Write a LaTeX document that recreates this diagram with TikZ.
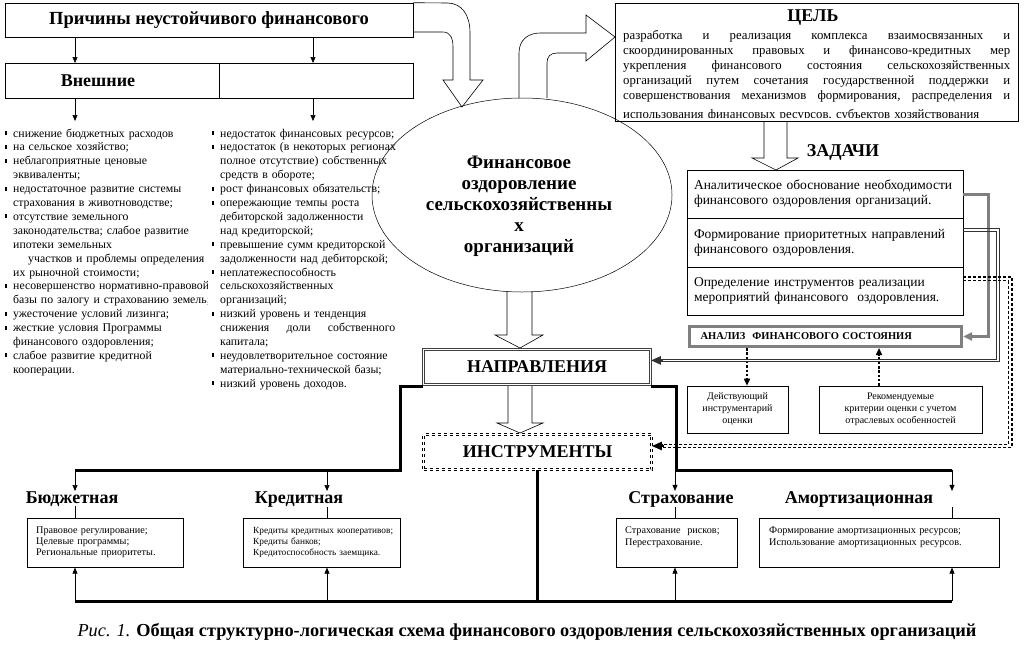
\documentclass[tikz,border=0pt]{standalone}
\usepackage{fontspec}
\setmainfont{Liberation Serif}
\usetikzlibrary{arrows.meta,shapes.geometric,calc}
\newcommand{\fs}[2]{\fontsize{#1}{#2}\selectfont}
\newcommand{\bl}{\leavevmode\llap{\rule[2pt]{2pt}{4pt}\hspace{6pt}}}
\newcommand{\jline}[2]{\leavevmode\hbox to #1{#2}}
\begin{document}
\begin{tikzpicture}[x=1pt,y=-1pt,
  thinbox/.style={draw, line width=0.6pt, inner sep=0},
  arr/.style={-{Triangle[length=6pt,width=5pt]}, line width=0.6pt},
  blockarrow/.style={line width=0.6pt, line join=miter},
  thk/.style={line width=3pt, line join=miter},
  lbl/.style={inner sep=0, font=\fs{18}{20}\bfseries},
  dotarr/.style={line width=1.6pt, dash pattern=on 2.5pt off 1.8pt, -{Triangle[length=7pt,width=6pt]}},
  dbl/.style={double, double distance=1.4pt, line width=0.6pt},
  solidpair/.style={line width=0.8pt, draw=black!80, line join=miter},
  dashpair/.style={line width=1.2pt, draw=black, line join=miter, dash pattern=on 3pt off 2pt}
]
\useasboundingbox[fill=white] (0,0) rectangle (1024,653);

% ---------- top-left: causes ----------
\node[thinbox, minimum width=408, minimum height=34] (prich) at (209,20)
  {\fs{18.5}{20}\bfseries Причины неустойчивого финансового};
\node[thinbox, minimum width=214, minimum height=35, anchor=north west] (vnL) at (5,63) {};
\node[thinbox, minimum width=194, minimum height=35, anchor=north west] (vnR) at (219,63) {};
\node[lbl] (vnt) at (98,81) {Внешние};

\coordinate (xa) at (75,0);
\coordinate (xb) at (313,0);
\coordinate (la) at (75,121);
\coordinate (lb) at (313,121);
\draw[arr] (xa |- prich.south) -- (xa |- vnL.north);
\draw[arr] (xb |- prich.south) -- (xb |- vnR.north);
\draw[arr] (xa |- vnL.south) -- (la);
\draw[arr] (xb |- vnR.south) -- (lb);

% ---------- lists ----------
\begin{scope}
\clip (0,118) rectangle (207,400);
\node[anchor=base west, text width=230, align=left, inner sep=0, font=\fs{11.8}{13.9}] (lst1) at (13,137) {%
\bl снижение бюджетных расходов\\
\bl на сельское хозяйство;\\
\bl неблагоприятные ценовые\\
эквиваленты;\\
\bl недостаточное развитие системы\\
страхования в животноводстве;\\
\bl отсутствие земельного\\
законодательства; слабое развитие\\
ипотеки земельных\\
\hspace*{15pt}участков и проблемы определения\\
их рыночной стоимости;\\
\bl несовершенство нормативно-правовой\\
базы по залогу и страхованию земель;\\
\bl ужесточение условий лизинга;\\
\bl жесткие условия Программы\\
финансового оздоровления;\\
\bl слабое развитие кредитной\\
кооперации.};
\end{scope}

\node[anchor=base west, text width=200, align=left, inner sep=0, font=\fs{11.8}{13.9}] (lst2) at (220,137) {%
\bl недостаток финансовых ресурсов;\\
\bl недостаток (в некоторых регионах\\
полное отсутствие) собственных\\
средств в обороте;\\
\bl рост финансовых обязательств;\\
\bl опережающие темпы роста\\
дебиторской задолженности\\
над кредиторской;\\
\bl превышение сумм кредиторской\\
задолженности над дебиторской;\\
\bl неплатежеспособность\\
сельскохозяйственных\\
организаций;\\
\bl низкий уровень и тенденция\\
\jline{175pt}{снижения\hfill доли\hfill собственного}\\
капитала;\\
\bl неудовлетворительное состояние\\
материально-технической базы;\\
\bl низкий уровень доходов.};

% ---------- ellipse ----------
\node[draw, ellipse, minimum width=300, minimum height=194, inner sep=0, line width=0.5pt] (ell) at (522,195) {};
\node[align=center, inner sep=0, font=\fs{19}{21}\bfseries] (ellt) at (519,206)
  {Финансовое\\оздоровление\\сельскохозяйственны\\х\\организаций};

% block arrow: causes -> ellipse
\draw[blockarrow] (prich.north east) -- (447,3) .. controls (462,3) and (470,15) .. (470,33)
  -- (470,80) -- (483,80) -- (462,107) -- (443,80) -- (453,80) -- (453,47)
  .. controls (453,38) and (450,32) .. (443,32) -- (prich.east |- 0,32);

% ---------- goal ----------
\node[thinbox, minimum width=403, minimum height=118, anchor=north west] (cel) at (615,3) {};
\node[lbl] (celt) at (813,18) {ЦЕЛЬ};
\begin{scope}
\clip (615,3) rectangle (1018,117.5);
\node[anchor=base west, text width=387, align=left, inner sep=0, font=\fs{12.8}{15}] (celb) at (623,39) {%
\jline{387pt}{разработка\hfill и\hfill реализация\hfill комплекса\hfill взаимосвязанных\hfill и}\\
\jline{387pt}{скоординированных\hfill правовых\hfill и\hfill финансово-кредитных\hfill мер}\\
\jline{387pt}{укрепления\hfill финансового\hfill состояния\hfill сельскохозяйственных}\\
\jline{387pt}{организаций\hfill путем\hfill сочетания\hfill государственной\hfill поддержки\hfill и}\\
\jline{387pt}{совершенствования\hfill механизмов\hfill формирования,\hfill распределения\hfill и}\\[4pt]
использования финансовых ресурсов, субъектов хозяйствования};
\end{scope}

% block arrow: ellipse -> goal
\draw[blockarrow] (519,98) -- (519,53) .. controls (519,40) and (528,33) .. (540,33)
  -- (586,33) -- (586,15) -- (cel.west |- 0,37) -- (586,61) -- (586,53) -- (557,53)
  .. controls (550,53) and (547,57) .. (547,63) -- (547,98);

% ---------- tasks ----------
\draw[blockarrow] (764,121) -- (764,158) -- (752,158) -- (776,170) -- (798,158) -- (787,158) -- (787,121);
\node[lbl] (zad) at (843,152) {ЗАДАЧИ};
\node[thinbox, minimum width=276, minimum height=48, text width=262, align=left, font=\fs{13.5}{15}] (t1) at (825,194)
  {Аналитическое обоснование необходимости\\финансового оздоровления организаций.};
\node[thinbox, minimum width=276, minimum height=49, text width=262, align=left, font=\fs{13.5}{15}] (t2) at (825,242.5)
  {Формирование приоритетных направлений\\финансового оздоровления.};
\node[thinbox, minimum width=276, minimum height=48, text width=262, align=left, font=\fs{13.5}{15}] (t3) at (825,291)
  {Определение инструментов реализации\\мероприятий финансового\ \ оздоровления.};

% analysis
\node[draw=black!50, line width=3pt, minimum width=272, minimum height=20, inner sep=0,
      text width=250, align=left, font=\fs{10.5}{12}\bfseries] (an) at (825.5,336.5)
  {АНАЛИЗ\ \ ФИНАНСОВОГО СОСТОЯНИЯ};
\node[thinbox, minimum width=101, minimum height=47, align=center, font=\fs{10}{12}] (dey) at (737.5,409.5)
  {Действующий\\инструментарий\\оценки};
\node[thinbox, minimum width=163, minimum height=47, align=center, font=\fs{10}{12}] (rec) at (900.5,409.5)
  {Рекомендуемые\\критерии оценки с учетом\\отраслевых особенностей};
\coordinate (dx1) at (747,0);
\coordinate (dx2) at (879,0);
\draw[dotarr] (an.south -| dx1) -- (dey.north -| dx1);
\draw[dotarr] (rec.north -| dx2) -- (an.south -| dx2);

% ---------- directions / instruments ----------
\draw[blockarrow] (507,291) -- (507,335) -- (495,335) -- (520,348) -- (543,335) -- (532,335) -- (532,291);
\node[draw=black!75, dbl, double distance=1.6pt, minimum width=227, minimum height=35, inner sep=0,
      font=\fs{18}{20}\bfseries] (napr) at (537,367) {НАПРАВЛЕНИЯ};
\draw[blockarrow] (508,386) -- (508,423) -- (497,423) -- (520,433) -- (543,423) -- (532,423) -- (532,386);
\node[draw, dbl, double distance=1.6pt, dashed, minimum width=228, minimum height=35, inner sep=0,
      font=\fs{18}{20}\bfseries] (instr) at (537.5,452) {ИНСТРУМЕНТЫ};

% right-side connectors
\coordinate (g1) at (988,194);
\draw[line width=3pt, black!50, line join=miter, -{Triangle[length=9pt,width=8pt]}]
  (t1.east |- g1) -- (g1) -- (g1 |- an.east) -- (an.east);
% double solid line t2 -> directions
\coordinate (qa1) at (999.6,228.3);
\coordinate (qb1) at (999.6,361.8);
\coordinate (qa2) at (996.8,231.1);
\coordinate (qb2) at (996.8,359.0);
\coordinate (qm) at (999,360.4);
\draw[solidpair] (t2.east |- qa1) -- (qa1) -- (qb1) -- ($(napr.east |- qb1)+(10,0)$);
\draw[solidpair] (t2.east |- qa2) -- (qa2) -- (qb2) -- ($(napr.east |- qb2)+(10,0)$);
\draw[-{Triangle[length=10pt,width=8pt]}, line width=2.2pt, black!80] ($(napr.east |- qm)+(12,0)$) -- (napr.east |- qm);
% double dashed line t3 -> instruments
\coordinate (ra1) at (1012,277);
\coordinate (rb1) at (1012,447.6);
\coordinate (ra2) at (1008.4,280.6);
\coordinate (rb2) at (1008.4,444.4);
\coordinate (rm) at (1010,446);
\draw[dashpair] (t3.east |- ra1) -- (ra1) -- (rb1) -- ($(instr.east |- rb1)+(10,0)$);
\draw[dashpair] (t3.east |- ra2) -- (ra2) -- (rb2) -- ($(instr.east |- rb2)+(10,0)$);
\draw[-{Triangle[length=10pt,width=8pt]}, line width=2.2pt] ($(instr.east |- rm)+(12,0)$) -- (instr.east |- rm);

% ---------- thick distribution lines ----------
\coordinate (L1) at (400,386.5);
\coordinate (L2) at (400,470);
\coordinate (R1) at (676,386.5);
\coordinate (R2) at (676,470);
\coordinate (x1) at (75,0);
\coordinate (x2) at (327,0);
\coordinate (x3) at (675,0);
\coordinate (x4) at (952,0);
\coordinate (bot) at (0,601);
\draw[thk] (napr.west |- L1) -- (L1) -- (L2) -- (x1 |- L2);
\draw[thk] (napr.east |- R1) -- (R1) -- (R2) -- (x4 |- R2);
\draw[thk] (x1 |- bot) -- (x4 |- bot);
\draw[thk] (instr.south) -- (instr.south |- bot);

% labels
\node[lbl, anchor=base] (k1) at (72,503) {Бюджетная};
\node[lbl, anchor=base] (k2) at (299,503) {Кредитная};
\node[lbl, anchor=base] (k3) at (681,503) {Страхование};
\node[lbl, anchor=base] (k4) at (859,503) {Амортизационная};

% boxes
\node[thinbox, minimum width=156, minimum height=49, anchor=north west] (b1) at (27,518) {};
\node[thinbox, minimum width=157, minimum height=49, anchor=north west] (b2) at (243,518) {};
\node[thinbox, minimum width=121, minimum height=49, anchor=north west] (b3) at (616,518) {};
\node[thinbox, minimum width=240, minimum height=49, anchor=north west] (b4) at (759,518) {};
\node[anchor=base west, inner sep=0, text width=150, align=left, font=\fs{10.2}{11.3}] (b1t) at (36,533)
  {Правовое регулирование;\\Целевые программы;\\Региональные приоритеты.};
\node[anchor=base west, inner sep=0, text width=170, align=left, font=\fs{9.3}{11.3}] (b2t) at (253,533)
  {Кредиты кредитных кооперативов;\\Кредиты банков;\\Кредитоспособность заемщика.};
\node[anchor=base west, inner sep=0, text width=110, align=left, font=\fs{10.2}{12}] (b3t) at (625,533)
  {Страхование\ \ рисков;\\Перестрахование.};
\node[anchor=base west, inner sep=0, text width=225, align=left, font=\fs{10.2}{12}] (b4t) at (769,533)
  {Формирование амортизационных ресурсов;\\Использование амортизационных ресурсов.};

\foreach \xx/\kk/\bb in {x1/k1/b1, x2/k2/b2, x3/k3/b3, x4/k4/b4}{
  \draw[arr] (\xx |- L2) -- (\xx |- \kk.north);
  \draw[line width=0.6pt] (\xx |- \kk.south) -- (\xx |- \bb.north);
  \draw[arr] (\xx |- bot) -- (\xx |- \bb.south);
}

% caption
\node[inner sep=0, font=\fs{18.3}{20}] (cap) at (527,632)
  {\textit{Рис. 1.} \textbf{Общая структурно-логическая схема финансового оздоровления сельскохозяйственных организаций}};
\end{tikzpicture}
\end{document}
